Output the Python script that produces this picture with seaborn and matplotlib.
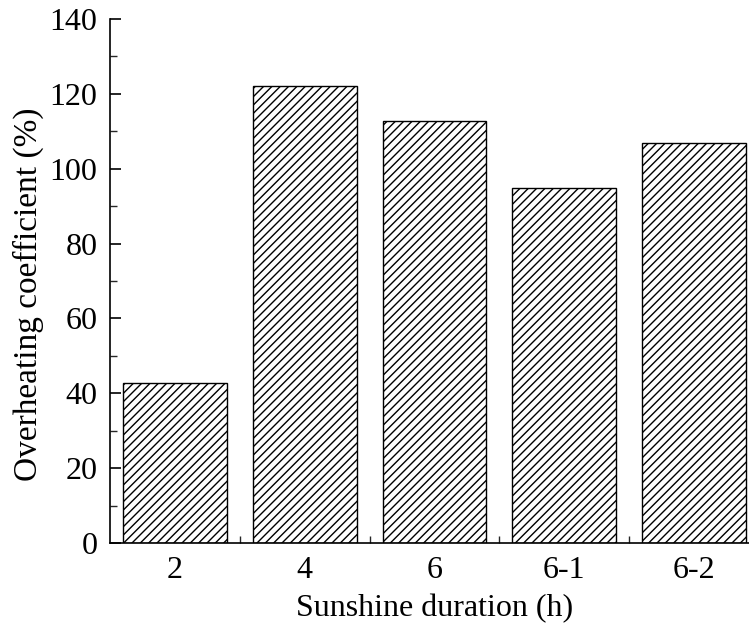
import matplotlib
matplotlib.use("Agg")
import matplotlib.pyplot as plt
import seaborn as sns
import pandas as pd
from matplotlib.ticker import MultipleLocator, FixedLocator

categories = ["2", "4", "6", "6-1", "6-2"]
values = [42.7, 122.0, 112.7, 94.8, 106.9]

df = pd.DataFrame({"duration": categories, "coef": values})

sns.set_theme(style="ticks")
plt.rcParams['font.family'] = ['Liberation Serif', 'DejaVu Serif']
plt.rcParams['hatch.linewidth'] = 1.0

fig = plt.figure(figsize=(7.49, 6.25), dpi=100)
W, H = 749, 625
left, right = 110, 759
bottom, top = 543, 19
ax = fig.add_axes([left / W, 1 - bottom / H, (right - left) / W, (bottom - top) / H])

sns.barplot(data=df, x="duration", y="coef", ax=ax, color="white",
            edgecolor="black", linewidth=1.0, width=0.8)
for p in ax.patches:
    p.set_hatch("////")
    p.set_facecolor("white")
    p.set_edgecolor("black")

ax.set_xlim(-0.5, 4.5)
ax.set_ylim(0, 140)
ax.yaxis.set_major_locator(MultipleLocator(20))
ax.yaxis.set_minor_locator(MultipleLocator(10))
ax.xaxis.set_minor_locator(FixedLocator([0.5, 1.5, 2.5, 3.5]))

for s in ["top", "right"]:
    ax.spines[s].set_visible(False)
for s in ["left", "bottom"]:
    ax.spines[s].set_linewidth(1.2)
    ax.spines[s].set_color("black")

ax.tick_params(axis="y", which="major", direction="in", length=8, width=1.2,
               labelsize=23, colors="black", pad=9)
ax.tick_params(axis="y", which="minor", direction="in", length=5, width=1.0)
ax.tick_params(axis="x", which="major", length=0, labelsize=23, colors="black", pad=9)
ax.tick_params(axis="x", which="minor", direction="in", length=5, width=1.0)

ax.set_xlabel("Sunshine duration (h)", fontsize=23, color="black", labelpad=7)
ax.set_ylabel("Overheating coefficient (%)", fontsize=24, color="black")
ax.yaxis.set_label_coords((44 - left) / (right - left), (bottom - 294) / (bottom - top))

fig.savefig("out.png", dpi=100)
